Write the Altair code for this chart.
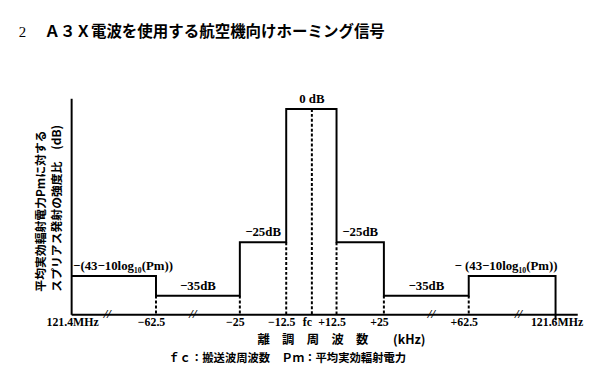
import altair as alt
import pandas as pd

# ---- data ----
edges_khz = [-100, -62.5, -25, -12.5, 12.5, 25, 62.5, 100]
levels_db = [-31.3, -35, -25, 0, -25, -35, -31.3]
level_labels = ["−(43−10log₁₀(Pm))", "−35dB", "−25dB", "0 dB", "−25dB", "−35dB", "− (43−10log₁₀(Pm))"]
tick_khz = [-100, -62.5, -25, -12.5, 0, 12.5, 25, 62.5, 100]
tick_labels = ["121.4MHz", "−62.5", "−25", "−12.5", "fc", "+12.5", "+25", "+62.5", "121.6MHz"]
break_khz = [-84, -46, 46, 84]
carrier_khz = 0

Y_MIN, Y_MAX = -38.5, 2

title_num = "2"
title_text = "Ａ３Ｘ電波を使用する航空機向けホーミング信号"
y_title_1 = "平均実効輻射電力Pmに対する"
y_title_2 = "スプリアス発射の強度比　(dB)"
x_title = "離　調　周　波　数　　(kHz)"
x_note = "ｆｃ：搬送波周波数　Ｐｍ：平均実効輻射電力"

# ---- tables built from the arrays ----
path = []
for i, lv in enumerate(levels_db):
    path.append({"f": edges_khz[i], "db": lv})
    path.append({"f": edges_khz[i + 1], "db": lv})
path.append({"f": edges_khz[-1], "db": Y_MIN - 1.1})
path_df = pd.DataFrame(path)
path_df["o"] = range(len(path_df))

dots = [{"f": edges_khz[i], "top": min(levels_db[i - 1], levels_db[i]), "bot": Y_MIN}
        for i in range(1, len(edges_khz) - 1)]
dots.append({"f": carrier_khz, "top": levels_db[3], "bot": Y_MIN})
dots_df = pd.DataFrame(dots)

n = len(levels_db)
inner_df = pd.DataFrame({
    "f": [(edges_khz[i] + edges_khz[i + 1]) / 2 for i in range(1, n - 1)],
    "db": levels_db[1:n - 1],
    "t": level_labels[1:n - 1],
})
left_df = pd.DataFrame({"f": [edges_khz[0]], "db": [levels_db[0]], "t": [level_labels[0]]})
right_df = pd.DataFrame({"f": [edges_khz[-1]], "db": [levels_db[-1]], "t": [level_labels[-1]]})
brk_df = pd.DataFrame({"f": break_khz, "db": [Y_MIN] * len(break_khz)})

W, H = 513, 219
xscale = alt.Scale(domain=[-100, -62.5, -25, -12.5, 0, 12.5, 25, 62.5, 100, 106],
                   range=[0, 86, 171, 218, 244, 269, 317, 403, 491, 513],
                   nice=False, zero=False)
yscale = alt.Scale(domain=[Y_MIN, Y_MAX], nice=False, zero=False)

vals_js = "[" + ",".join(str(v) for v in tick_khz) + "]"
labs_js = "[" + ",".join("'" + s + "'" for s in tick_labels) + "]"
label_expr = f"{labs_js}[indexof({vals_js}, datum.value)]"
edge_test = f"abs(datum.value) == {abs(tick_khz[0])}"

NUM_FONT = "Liberation Serif"
CJK = "Noto Sans CJK JP"

line = alt.Chart(path_df).mark_line(color="black", strokeWidth=2).encode(
    x=alt.X("f:Q", scale=xscale,
            axis=alt.Axis(values=tick_khz, labelExpr=label_expr, title=None, grid=False,
                          ticks=False, domainColor="black", domainWidth=2,
                          labelFont=NUM_FONT, labelFontSize=12, labelFontWeight="bold",
                          labelColor="black", labelPadding=2, labelFlush=False,
                          labelOverlap=False, labelBound=False,
                          labelOffset={"condition": {"test": edge_test, "value": 1}, "value": -5})),
    y=alt.Y("db:Q", scale=yscale,
            axis=alt.Axis(labels=False, ticks=False, title=None, grid=False,
                          domainColor="black", domainWidth=2)),
    order="o:Q",
)

dotted = alt.Chart(dots_df).mark_rule(color="black", strokeWidth=2, strokeDash=[3, 2]).encode(
    x=alt.X("f:Q", scale=xscale),
    y=alt.Y("top:Q", scale=yscale),
    y2="bot:Q",
)


def level_text(df, align, dx):
    return alt.Chart(df).mark_text(font=NUM_FONT, fontSize=13, fontWeight="bold", color="black",
                                   baseline="bottom", dy=-3, align=align, dx=dx).encode(
        x=alt.X("f:Q", scale=xscale),
        y=alt.Y("db:Q", scale=yscale),
        text="t:N",
    )


labels_inner = level_text(inner_df, "center", 0)
labels_left = level_text(left_df, "left", 2)
labels_right = level_text(right_df, "right", 2)

breaks = alt.Chart(brk_df).mark_text(text="//", font=NUM_FONT, fontSize=13, fontWeight="bold",
                                     fontStyle="italic", color="black", baseline="middle").encode(
    x=alt.X("f:Q", scale=xscale),
    y=alt.Y("db:Q", scale=yscale),
)

one = pd.DataFrame({"a": [0]})


def note(text, px, py, size, font=CJK, weight="bold", align="left", angle=0):
    kw = dict(text=text, font=font, fontSize=size, fontWeight=weight, color="black",
              align=align, baseline="middle")
    if angle:
        kw["angle"] = angle
    return alt.Chart(one).mark_text(**kw).encode(
        x=alt.value(px - 72), y=alt.value(py - 97))


texts = [
    note(title_num, 19, 30, 15, font=NUM_FONT, weight="normal"),
    note(title_text, 45, 30, 15.7, weight="bold"),
    note(y_title_1, 42, 293, 12, angle=270),
    note(y_title_2, 58, 293, 12, angle=270),
    note(x_title, 346, 342, 12.5, align="center"),
    note(x_note, 291, 361, 11.5, align="center"),
]

chart = alt.layer(dotted, line, labels_inner, labels_left, labels_right, breaks, *texts).properties(
    width=W, height=H,
    autosize=alt.AutoSizeParams(type="none"),
    padding={"left": 64, "top": 89, "right": 19, "bottom": 60},
    background="white",
).configure_view(stroke=None)

chart.save("out.html", embed_options={"renderer": "svg", "actions": False})
